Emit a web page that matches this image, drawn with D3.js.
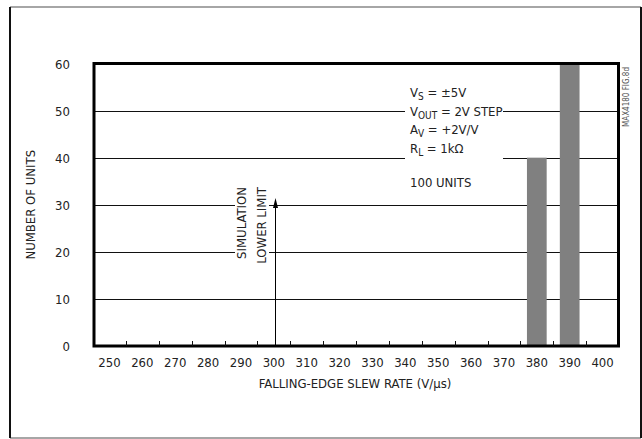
<html>
<head>
  <meta charset="utf-8">
  <script src="https://d3js.org/d3.v7.min.js"></script>
  <style>
    body { margin: 0; background: #fff; }
    svg text { font-family: "Liberation Sans Narrow", "Arial Narrow", "DejaVu Sans Condensed", sans-serif; fill: #222; }
  </style>
</head>
<body>
<svg width="642" height="439"></svg>
<script>
// histogram of falling-edge slew rate
var slewRates = [250, 260, 270, 280, 290, 300, 310, 320, 330, 340, 350, 360, 370, 380, 390, 400];
var units     = [0,   0,   0,   0,   0,   0,   0,   0,   0,   0,   0,   0,   0,   40,  60,  0];
var yTicks = [0, 10, 20, 30, 40, 50, 60];
var simLimit = 300;

var svg = d3.select("svg");
var plotL = 93, plotR = 619, plotT = 63.5, plotB = 346;

var x = d3.scaleBand().domain(slewRates).range([plotL, plotR]).paddingInner(0.4).paddingOuter(0.2);
var y = d3.scaleLinear().domain([0, 60]).range([plotB, plotT]);
var gap = x.step() - x.bandwidth();

// outer border
svg.append("line").attr("x1", 10).attr("x2", 641).attr("y1", 7).attr("y2", 7).attr("stroke", "#888").attr("stroke-width", 1.5);
svg.append("line").attr("x1", 10).attr("x2", 641).attr("y1", 438).attr("y2", 438).attr("stroke", "#888").attr("stroke-width", 1.5);
svg.append("line").attr("x1", 10).attr("x2", 10).attr("y1", 7).attr("y2", 438).attr("stroke", "#111").attr("stroke-width", 2);
svg.append("line").attr("x1", 641).attr("x2", 641).attr("y1", 7).attr("y2", 438).attr("stroke", "#111").attr("stroke-width", 2);

// gridlines
svg.append("g").selectAll("line")
  .data(yTicks.filter(function(d) { return d > 0 && d < 60; }))
  .enter().append("line")
  .attr("x1", plotL).attr("x2", plotR)
  .attr("y1", function(d) { return Math.round(y(d)) + 0.5; })
  .attr("y2", function(d) { return Math.round(y(d)) + 0.5; })
  .attr("stroke", "#111").attr("stroke-width", 1);

// white boxes behind the notes
svg.append("rect").attr("x", 405).attr("y", 78).attr("width", 98).attr("height", 114).attr("fill", "#fff");
svg.append("rect").attr("x", 235).attr("y", 185).attr("width", 34).attr("height", 78).attr("fill", "#fff");

// bars
svg.append("g").selectAll("rect")
  .data(slewRates.map(function(d, i) { return { rate: d, n: units[i] }; }).filter(function(d) { return d.n > 0; }))
  .enter().append("rect")
  .attr("x", function(d) { return x(d.rate); })
  .attr("y", function(d) { return y(d.n); })
  .attr("width", x.bandwidth())
  .attr("height", function(d) { return y(0) - y(d.n); })
  .attr("fill", "#808080");

// plot frame
svg.append("rect").attr("x", plotL + 1).attr("y", plotT).attr("width", plotR - plotL - 1.5).attr("height", plotB - plotT)
  .attr("fill", "none").attr("stroke", "#000").attr("stroke-width", 3);

// x ticks between categories
svg.append("g").selectAll("line")
  .data(slewRates.slice(1))
  .enter().append("line")
  .attr("x1", function(d) { return Math.round(x(d) - gap / 2) + 0.5; })
  .attr("x2", function(d) { return Math.round(x(d) - gap / 2) + 0.5; })
  .attr("y1", plotB).attr("y2", plotB - 5)
  .attr("stroke", "#111").attr("stroke-width", 1);

// x tick labels
svg.append("g").selectAll("text")
  .data(slewRates)
  .enter().append("text")
  .attr("x", function(d) { return x(d) + x.bandwidth() / 2; })
  .attr("y", 367)
  .attr("text-anchor", "middle")
  .attr("font-size", 13)
  .text(function(d) { return d; });

// y tick labels
svg.append("g").selectAll("text")
  .data(yTicks)
  .enter().append("text")
  .attr("x", 70)
  .attr("y", function(d) { return y(d) + 5; })
  .attr("text-anchor", "end")
  .attr("font-size", 13)
  .text(function(d) { return d; });

// axis titles
svg.append("text").attr("x", 355).attr("y", 388).attr("text-anchor", "middle").attr("font-size", 13)
  .text("FALLING-EDGE SLEW RATE (V/\u00b5s)");
svg.append("text").attr("transform", "translate(35," + ((plotT + plotB) / 2) + ") rotate(-90)")
  .attr("text-anchor", "middle").attr("font-size", 13).text("NUMBER OF UNITS");

// simulation lower limit arrow
var ax = Math.round(x(simLimit) + x.bandwidth() / 2 + 1) + 0.5;
svg.append("line").attr("x1", ax).attr("x2", ax).attr("y1", plotB).attr("y2", 205)
  .attr("stroke", "#000").attr("stroke-width", 1);
svg.append("path").attr("d", "M" + ax + ",198 L" + (ax - 2.5) + ",208 L" + (ax + 2.5) + ",208 Z").attr("fill", "#000");
svg.append("text").attr("transform", "translate(246,187) rotate(-90)").attr("text-anchor", "end").attr("font-size", 13).text("SIMULATION");
svg.append("text").attr("transform", "translate(266,187) rotate(-90)").attr("text-anchor", "end").attr("font-size", 13).text("LOWER LIMIT");

// test conditions
var notes = [
  [["V", ""], ["S", "sub"], [" = \u00b15V", ""]],
  [["V", ""], ["OUT", "sub"], [" = 2V STEP", ""]],
  [["A", ""], ["V", "sub"], [" = +2V/V", ""]],
  [["R", ""], ["L", "sub"], [" = 1k\u03a9", ""]]
];
notes.forEach(function(parts, i) {
  var t = svg.append("text").attr("x", 410).attr("y", 97 + i * 18.5).attr("font-size", 13);
  parts.forEach(function(p, j) {
    var s = t.append("tspan").text(p[0]);
    if (p[1] === "sub") s.attr("font-size", 10).attr("dy", 3);
    else if (j > 0) s.attr("dy", -3);
  });
});
svg.append("text").attr("x", 410).attr("y", 187).attr("font-size", 13).text("100 UNITS");

// figure tag
svg.append("text").attr("transform", "translate(629,67) rotate(-90)").attr("text-anchor", "end")
  .attr("font-size", 8).style("fill", "#555").text("MAX4180 FIG.8d");
</script>
</body>
</html>
